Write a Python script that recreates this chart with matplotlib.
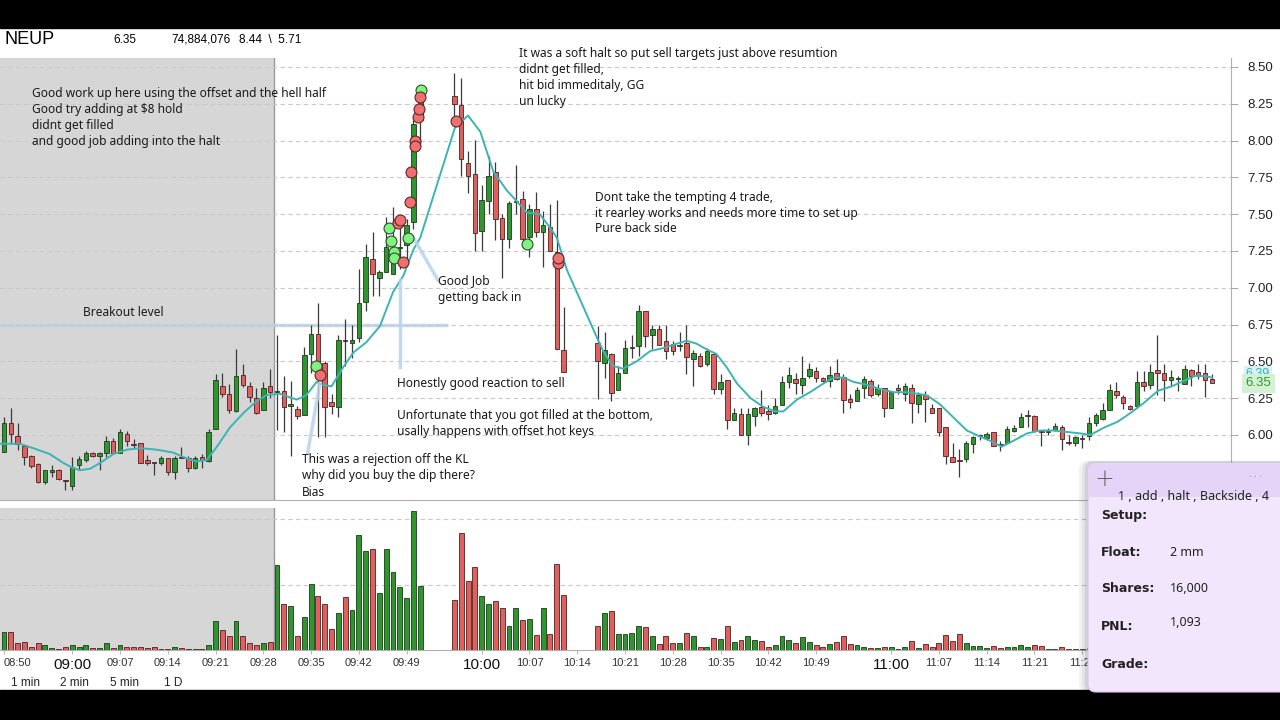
import numpy as np
import matplotlib
matplotlib.use("Agg")
import matplotlib.pyplot as plt
from matplotlib.patches import Rectangle, FancyBboxPatch
from matplotlib.transforms import IdentityTransform, blended_transform_factory

nan = float("nan")

# 1-minute bars starting 08:50, halts leave empty slots (nan)
opens = [5.885, 6.079, 5.996, 5.927, 5.855, 5.800, 5.683, 5.750, 5.759, 5.692,
         5.654, 5.795, 5.829, 5.878, 5.856, 5.878, 5.961, 5.878, 6.005, 5.938,
         5.945, 5.829, 5.815, 5.806, 5.844, 5.750, 5.844, 5.844, 5.777, 5.849,
         5.822, 6.041, 6.332, 6.281, 6.164, 6.410, 6.332, 6.254, 6.169, 6.332,
         6.290, 6.300, 6.200, 6.178, 6.133, 6.549, 6.684, 6.489, 6.222, 6.189,
         6.644, 6.622, 6.656, 6.904, 7.193, 7.067, 7.104, 7.096, 7.270, 7.289,
         7.450, 8.140, nan, nan, nan, nan, 8.304, 8.244, 7.851, 7.773,
         7.389, 7.589, 7.789, 7.473, 7.329, 7.584, 7.604, 7.344, 7.538, 7.382,
         7.411, 7.244, 6.578, nan, nan, nan, nan, 6.627, 6.490, 6.550,
         6.306, 6.424, 6.590, 6.601, 6.841, 6.679, 6.719, 6.639, 6.617, 6.603,
         6.624, 6.519, 6.539, 6.479, 6.550, 6.309, 6.373, 6.102, 6.142, 6.002,
         6.131, 6.187, 6.164, 6.151, 6.202, 6.357, 6.380, 6.342, 6.402, 6.435,
         6.386, 6.368, 6.424, 6.395, 6.246, 6.231, 6.318, 6.369, 6.275, 6.317,
         6.180, 6.320, 6.280, 6.317, 6.212, 6.274, 6.186, 6.186, 6.057, 5.850,
         5.825, 5.834, 5.939, 5.990, 5.979, 6.017, 5.936, 5.946, 6.028, 6.052,
         6.128, 6.128, 6.019, 6.019, 6.035, 6.052, 5.948, 5.946, 5.972, 5.990,
         6.083, 6.106, 6.172, 6.297, 6.261, 6.194, 6.194, 6.357, 6.341, 6.443,
         6.419, 6.372, 6.379, 6.346, 6.439, 6.430, 6.423, 6.379]
highs = [6.124, 6.180, 6.079, 5.927, 5.867, 5.811, 5.759, 5.795, 5.766, 5.692,
         5.849, 5.855, 5.894, 5.885, 5.885, 5.990, 5.979, 6.039, 6.028, 5.974,
         5.945, 5.867, 5.815, 5.855, 5.844, 5.855, 5.918, 5.855, 5.855, 5.871,
         6.039, 6.415, 6.419, 6.348, 6.583, 6.482, 6.359, 6.319, 6.359, 6.449,
         6.678, 6.400, 6.367, 6.200, 6.600, 6.744, 6.896, 6.500, 6.278, 6.678,
         6.789, 6.744, 7.127, 7.300, 7.378, 7.122, 7.478, 7.549, 7.430, 7.467,
         8.140, 8.330, nan, nan, nan, nan, 8.460, 8.422, 7.927, 8.007,
         7.696, 7.896, 7.856, 7.500, 7.589, 7.833, 7.656, 7.567, 7.649, 7.522,
         7.567, 7.593, 6.871, nan, nan, nan, nan, 6.740, 6.700, 6.560,
         6.468, 6.646, 6.680, 6.885, 6.845, 6.746, 6.750, 6.750, 6.639, 6.697,
         6.750, 6.579, 6.557, 6.590, 6.557, 6.413, 6.373, 6.180, 6.180, 6.180,
         6.191, 6.302, 6.202, 6.253, 6.402, 6.462, 6.424, 6.539, 6.490, 6.462,
         6.395, 6.468, 6.513, 6.413, 6.280, 6.324, 6.402, 6.380, 6.346, 6.317,
         6.291, 6.346, 6.350, 6.346, 6.290, 6.297, 6.212, 6.186, 6.057, 5.946,
         5.906, 5.957, 5.990, 6.008, 6.017, 6.023, 5.957, 6.061, 6.068, 6.146,
         6.172, 6.134, 6.035, 6.046, 6.079, 6.068, 6.001, 5.995, 6.001, 6.123,
         6.146, 6.217, 6.346, 6.357, 6.268, 6.201, 6.434, 6.434, 6.483, 6.679,
         6.483, 6.439, 6.401, 6.474, 6.446, 6.483, 6.479, 6.417]
lows = [5.885, 5.945, 5.900, 5.795, 5.777, 5.676, 5.670, 5.717, 5.692, 5.627,
        5.627, 5.759, 5.815, 5.851, 5.759, 5.851, 5.878, 5.878, 5.927, 5.911,
        5.811, 5.795, 5.728, 5.795, 5.726, 5.699, 5.840, 5.750, 5.766, 5.777,
        5.815, 6.041, 6.258, 6.151, 6.158, 6.325, 6.225, 6.140, 6.169, 6.254,
        6.033, 6.022, 5.856, 6.111, 6.133, 6.422, 5.989, 5.989, 6.144, 6.122,
        6.467, 6.522, 6.633, 6.844, 6.944, 6.944, 7.104, 7.096, 7.130, 7.189,
        7.400, 7.970, nan, nan, nan, nan, 8.170, 7.756, 7.644, 7.251,
        7.251, 7.500, 7.327, 7.067, 7.267, 7.500, 7.278, 7.211, 7.344, 7.140,
        7.251, 6.584, 6.429, nan, nan, nan, nan, 6.246, 6.390, 6.231,
        6.306, 6.424, 6.524, 6.535, 6.595, 6.586, 6.608, 6.513, 6.546, 6.573,
        6.413, 6.335, 6.462, 6.468, 6.280, 6.280, 6.040, 6.102, 6.002, 5.931,
        6.058, 6.129, 6.102, 6.142, 6.202, 6.320, 6.280, 6.280, 6.386, 6.357,
        6.362, 6.324, 6.373, 6.147, 6.180, 6.231, 6.253, 6.258, 6.262, 6.124,
        6.180, 6.280, 6.229, 6.079, 6.146, 6.090, 6.146, 5.990, 5.801, 5.819,
        5.712, 5.817, 5.879, 5.968, 5.972, 5.923, 5.890, 5.946, 6.017, 6.052,
        6.057, 6.017, 5.923, 6.001, 6.024, 5.901, 5.934, 5.923, 5.912, 5.968,
        6.061, 6.101, 6.172, 6.252, 6.179, 6.172, 6.186, 6.301, 6.312, 6.268,
        6.230, 6.334, 6.301, 6.346, 6.334, 6.379, 6.257, 6.350]
closes = [6.079, 6.008, 5.938, 5.849, 5.788, 5.683, 5.759, 5.759, 5.699, 5.688,
          5.782, 5.838, 5.878, 5.856, 5.878, 5.961, 5.878, 6.019, 5.961, 5.934,
          5.811, 5.806, 5.811, 5.844, 5.750, 5.840, 5.840, 5.777, 5.844, 5.829,
          6.023, 6.375, 6.281, 6.169, 6.399, 6.336, 6.258, 6.151, 6.319, 6.292,
          6.300, 6.189, 6.210, 6.127, 6.544, 6.684, 6.489, 6.189, 6.200, 6.644,
          6.638, 6.644, 6.896, 7.207, 7.096, 7.104, 7.278, 7.256, 7.280, 7.429,
          8.110, 8.290, nan, nan, nan, nan, 8.249, 7.878, 7.756, 7.371,
          7.593, 7.756, 7.467, 7.329, 7.578, 7.589, 7.329, 7.538, 7.382, 7.427,
          7.251, 6.584, 6.429, nan, nan, nan, nan, 6.500, 6.579, 6.284,
          6.424, 6.590, 6.595, 6.845, 6.672, 6.723, 6.608, 6.568, 6.568, 6.612,
          6.528, 6.557, 6.468, 6.568, 6.309, 6.357, 6.102, 6.147, 6.002, 6.140,
          6.180, 6.151, 6.140, 6.198, 6.357, 6.408, 6.351, 6.386, 6.446, 6.386,
          6.368, 6.408, 6.380, 6.240, 6.224, 6.302, 6.380, 6.269, 6.320, 6.180,
          6.290, 6.306, 6.330, 6.219, 6.268, 6.241, 6.152, 6.019, 5.857, 5.819,
          5.823, 5.946, 5.986, 5.997, 6.008, 5.923, 5.934, 6.039, 6.050, 6.123,
          6.132, 6.028, 6.017, 6.028, 6.061, 5.972, 5.946, 5.986, 5.970, 6.079,
          6.134, 6.168, 6.306, 6.268, 6.217, 6.179, 6.357, 6.334, 6.430, 6.419,
          6.372, 6.394, 6.381, 6.446, 6.401, 6.408, 6.372, 6.350]
# volume in units of the first volume gridline
volume = [0.27, 0.27, 0.11, 0.12, 0.05, 0.11, 0.07, 0.03, 0.01, 0.05,
          0.07, 0.04, 0.07, 0.03, 0.03, 0.10, 0.03, 0.07, 0.05, 0.05,
          0.05, 0.03, 0.04, 0.02, 0.02, 0.05, 0.03, 0.02, 0.01, 0.02,
          0.08, 0.44, 0.31, 0.21, 0.44, 0.22, 0.11, 0.08, 0.10, 0.12,
          1.30, 0.71, 0.68, 0.22, 0.51, 1.01, 0.83, 0.70, 0.32, 0.56,
          0.81, 0.61, 1.76, 1.52, 1.54, 0.87, 1.55, 1.19, 0.96, 0.80,
          2.12, 0.98, nan, nan, nan, nan, 0.76, 1.79, 1.05, 1.27,
          0.83, 0.70, 0.75, 0.64, 0.37, 0.64, 0.46, 0.47, 0.23, 0.64,
          0.24, 1.31, 0.84, nan, nan, nan, nan, 0.36, 0.57, 0.60,
          0.24, 0.24, 0.26, 0.37, 0.35, 0.22, 0.09, 0.22, 0.11, 0.10,
          0.26, 0.21, 0.05, 0.05, 0.18, 0.17, 0.37, 0.12, 0.15, 0.21,
          0.15, 0.14, 0.05, 0.07, 0.21, 0.16, 0.10, 0.20, 0.12, 0.07,
          0.05, 0.09, 0.12, 0.21, 0.09, 0.07, 0.04, 0.03, 0.03, 0.05,
          0.05, 0.02, 0.05, 0.13, 0.03, 0.09, 0.05, 0.10, 0.23, 0.13,
          0.25, 0.10, 0.06, 0.06, 0.03, 0.06, 0.03, 0.05, 0.05, 0.08,
          0.05, 0.08, 0.06, 0.02, 0.02, 0.04, 0.01, 0.01, 0.01, 0.03,
          0.04, 0.05, 0.08, 0.04, 0.03, 0.02, 0.09, 0.04, 0.06, 0.12,
          0.05, 0.03, 0.02, 0.05, 0.03, 0.02, 0.04, 0.02]

# moving average line (bar index, price)
ma_bar = [-0.6, 2.3, 4.3, 6.7, 8.7, 9.9, 11.1, 12.6, 14.1, 16.0, 18.0, 20.0, 22.4,
          24.8, 26.8, 28.2, 29.7, 31.2, 33.1, 35.1, 37.0, 38.5, 40.4, 42.9, 44.3,
          45.8, 46.8, 48.0, 49.7, 51.2, 53.1, 55.1, 57.0, 58.5, 60.0, 61.0, 66.1,
          68.0, 69.8, 71.7, 73.7, 75.1, 76.6, 78.5, 80.0, 81.0, 82.5, 86.9, 87.8,
          89.2, 90.7, 92.7, 94.7, 96.6, 98.6, 100.0, 101.5, 103.0, 104.4, 105.9,
          107.4, 109.4, 111.3, 113.0, 114.2, 116.2, 118.1, 120.1, 121.6, 123.0,
          124.5, 126.5, 128.5, 130.4, 132.4, 135.2, 137.1, 139.1, 141.1, 143.0,
          145.0, 146.2, 147.9, 149.9, 151.8, 153.8, 155.8, 157.8, 159.2, 161.2,
          163.2, 165.1, 167.1, 169.1, 171.1, 173.0, 174.5, 176.0, 177.0]
ma_val = [5.94, 5.94, 5.91, 5.87, 5.81, 5.78, 5.76, 5.77, 5.81, 5.87, 5.90, 5.91, 5.90,
          5.88, 5.84, 5.82, 5.83, 5.92, 6.05, 6.15, 6.23, 6.27, 6.28, 6.24, 6.27,
          6.36, 6.34, 6.33, 6.46, 6.56, 6.63, 6.74, 6.97, 7.08, 7.26, 7.34, 8.09,
          8.17, 8.06, 7.79, 7.66, 7.59, 7.51, 7.50, 7.41, 7.34, 7.12, 6.66, 6.57,
          6.47, 6.45, 6.50, 6.57, 6.59, 6.62, 6.64, 6.62, 6.58, 6.55, 6.46,
          6.35, 6.25, 6.19, 6.16, 6.16, 6.24, 6.29, 6.35, 6.39, 6.39,
          6.36, 6.34, 6.31, 6.29, 6.29, 6.27, 6.21, 6.12, 6.03, 5.99,
          5.95, 5.92, 5.96, 6.01, 6.03, 6.03, 6.02, 6.01, 6.00, 6.05,
          6.09, 6.15, 6.22, 6.30, 6.33, 6.37, 6.40, 6.40, 6.39]

# executions (bar index, price)
buy_bar = [45.7, 56.4, 56.7, 57.1, 57.1, 59.2, 61.1, 76.6]
buy_px = [6.467, 7.404, 7.318, 7.245, 7.200, 7.340, 8.344, 7.300]
sell_bar = [46.3, 57.8, 58.1, 58.4, 59.5, 59.7, 60.2, 60.2, 60.6, 60.8, 60.9, 66.3, 81.2, 81.2]
sell_px = [6.410, 7.438, 7.461, 7.173, 7.581, 7.789, 7.997, 7.966, 8.162, 8.215, 8.298, 8.133, 7.171, 7.200]

time_labels = ["08:50", "09:00", "09:07", "09:14", "09:21", "09:28", "09:35", "09:42",
               "09:49", "10:00", "10:07", "10:14", "10:21", "10:28", "10:35", "10:42",
               "10:49", "11:00", "11:07", "11:14", "11:21", "11:28"]
price_ticks = [6.00, 6.25, 6.50, 6.75, 7.00, 7.25, 7.50, 7.75, 8.00, 8.25, 8.50]

GREEN = "#2f952f"
RED = "#e0605e"
TEAL = "#3cb4b4"
NOTE = "#b9d3ec"
W, H = 1280, 720


def fx(x):
    return x / W


def fy(y):
    return 1 - y / H


o = np.array(opens)
h = np.array(highs)
l = np.array(lows)
c = np.array(closes)
v = np.array(volume)
bars = np.arange(len(o))
ok = ~np.isnan(o)
up = ok & (c >= o)
dn = ok & (c < o)

fig = plt.figure(figsize=(12.8, 7.2), dpi=100)
fig.patch.set_facecolor("white")

ax = fig.add_axes([0, fy(500), fx(1231), (500 - 58) / H])
axv = fig.add_axes([0, fy(650), fx(1231), (650 - 508) / H])

xmin, xmax = -0.586, 179.8
premarket_end = 39.56

# price panel
ax.set_xlim(xmin, xmax)
ax.set_ylim(5.558, 8.561)
ax.axvspan(xmin, premarket_end, color="#d6d6d6", zorder=0, lw=0)
ax.axvline(premarket_end, color="#9a9a9a", lw=1, zorder=1)
ax.set_yticks(price_ticks)
ax.set_yticklabels(["%.2f" % p for p in price_ticks])
ax.yaxis.tick_right()
ax.tick_params(axis="y", length=5, color="#aaaaaa", pad=7, labelsize=9.5,
               labelcolor="#222222")
ax.tick_params(axis="x", bottom=False, labelbottom=False)
ax.grid(axis="y", ls=(0, (4, 3)), color="#c8c8c8", lw=0.8, zorder=0.5)
for s in ["left", "top"]:
    ax.spines[s].set_visible(False)
ax.spines["right"].set_color("#b0b0b0")
ax.spines["bottom"].set_color("#b0b0b0")
for t in ax.get_yticklabels():
    t.set_fontfamily(["Liberation Sans", "DejaVu Sans"])

ax.vlines(bars[ok], l[ok], h[ok], color="#3b3b3b", lw=0.9, zorder=2)
body_lo = np.minimum(o, c)
body_h = np.maximum(np.abs(c - o), 0.007)
ax.bar(bars[up], body_h[up], bottom=body_lo[up], width=0.66, color=GREEN,
       edgecolor="#1c3a1c", lw=0.6, zorder=3)
ax.bar(bars[dn], body_h[dn], bottom=body_lo[dn], width=0.66, color=RED,
       edgecolor="#4a2222", lw=0.6, zorder=3)

ax.plot(ma_bar, ma_val, color=TEAL, lw=1.4, zorder=4)

# note lines drawn on the chart
ax.plot([xmin, 65.0], [6.745, 6.745], color=NOTE, lw=2.5, alpha=0.85, zorder=1.5,
        solid_capstyle="butt")
ax.plot([58.0, 58.0], [6.46, 7.05], color=NOTE, lw=2.5, alpha=0.85, zorder=4.5)
ax.plot([60.0, 63.6], [7.34, 7.05], color=NOTE, lw=2.5, alpha=0.85, zorder=4.5)
ax.plot([44.5, 46.3], [5.878, 6.353], color=NOTE, lw=2.5, alpha=0.85, zorder=4.5)

ax.scatter(buy_bar, buy_px, s=62, color="#7ff27f", edgecolor="#2f4f2f", lw=0.8,
           zorder=6)
ax.scatter(sell_bar, sell_px, s=62, color="#f07070", edgecolor="#5a2a2a", lw=0.8,
           zorder=6)

# last price tags (the MA tag sits half hidden behind the price tag)
tr = blended_transform_factory(ax.transAxes, ax.transData)
ax.text(1.012, ma_val[-1] + 0.025, "6.39", transform=tr, fontsize=9, color=TEAL,
        va="center", ha="left", family=["Liberation Sans", "DejaVu Sans"],
        bbox=dict(boxstyle="square,pad=0.15", fc="#d8f1f4", ec="none"), zorder=7,
        clip_on=False)
ax.text(1.012, closes[-1], "6.35", transform=tr, fontsize=9.5, color="#2a9a2a",
        va="center", ha="left", family=["Liberation Sans", "DejaVu Sans"],
        bbox=dict(boxstyle="square,pad=0.25", fc="#d6f0d6", ec="none"), zorder=8,
        clip_on=False)

# volume panel
axv.set_xlim(xmin, xmax)
axv.set_ylim(0, 2.17)
axv.axvspan(xmin, premarket_end, color="#d6d6d6", zorder=0, lw=0)
axv.axvline(premarket_end, color="#9a9a9a", lw=1, zorder=1)
axv.bar(bars[up], v[up], width=0.72, color=GREEN, edgecolor="#1c3a1c", lw=0.6,
        zorder=3)
axv.bar(bars[dn], v[dn], width=0.72, color=RED, edgecolor="#4a2222", lw=0.6,
        zorder=3)
axv.set_yticks([1, 2])
axv.yaxis.tick_right()
axv.tick_params(axis="y", length=0, labelright=False)
axv.grid(axis="y", ls=(0, (4, 3)), color="#c8c8c8", lw=0.8, zorder=0.5)
for s in ["left", "top"]:
    axv.spines[s].set_visible(False)
axv.spines["right"].set_color("#b0b0b0")
axv.spines["bottom"].set_color("#b0b0b0")

tick_pos = []
for lab in time_labels:
    hh, mm = lab.split(":")
    tick_pos.append(int(hh) * 60 + int(mm) - (8 * 60 + 50))
axv.set_xticks(tick_pos)
axv.set_xticklabels(time_labels)
axv.tick_params(axis="x", length=3, color="#bbbbbb", pad=3)
for t in axv.get_xticklabels():
    t.set_fontfamily(["Liberation Sans Narrow", "Liberation Sans", "DejaVu Sans"])
    if t.get_text().endswith(":00"):
        t.set_fontsize(11)
        t.set_color("#111111")
    else:
        t.set_fontsize(8)
        t.set_color("#333333")
axv.get_xticklabels()[0].set_ha("left")

# frame bars and header
fig.add_artist(Rectangle((0, fy(28)), 1, 28 / H, transform=fig.transFigure,
                         color="black", zorder=20))
fig.add_artist(Rectangle((0, 0), 1, 30 / H, transform=fig.transFigure,
                         color="black", zorder=20))
hf = ["Liberation Sans", "DejaVu Sans"]
fig.text(fx(5), fy(40), "NEUP", fontsize=13, va="center", family=hf)
fig.text(fx(113), fy(40), "6.35", fontsize=8.5, va="center", family=hf)
fig.text(fx(171), fy(40), "74,884,076", fontsize=8.5, va="center", family=hf)
fig.text(fx(239), fy(40), "8.44  \\  5.71", fontsize=8.5, va="center", family=hf)

nf = ["Liberation Sans Narrow", "Liberation Sans", "DejaVu Sans"]
for xx, lab in [(11, "1 min"), (60, "2 min"), (110, "5 min"), (164, "1 D")]:
    fig.text(fx(xx), fy(683), lab, fontsize=8.5, va="center", family=nf,
             color="#222222")

# annotations
af = ["Noto Sans", "DejaVu Sans"]
notes = [
    (32, 94, ["Good work up here using the offset and the hell half",
              "Good try adding at \\$8 hold",
              "didnt get filled",
              "and good job adding into the halt"]),
    (83, 313, ["Breakout level"]),
    (519, 53, ["It was a soft halt so put sell targets just above resumtion",
               "didnt get filled,",
               "hit bid immeditaly, GG",
               "un lucky"]),
    (595, 197, ["Dont take the tempting 4 trade,",
                "it rearley works and needs more time to set up",
                "Pure back side"]),
    (438, 281, ["Good Job", "getting back in"]),
    (397, 384, ["Honestly good reaction to sell"]),
    (397, 416, ["Unfortunate that you got filled at the bottom,",
                "usally happens with offset hot keys"]),
    (302, 460, ["This was a rejection off the KL",
                "why did you buy the dip there?",
                "Bias"]),
]
for xx, yy, lines in notes:
    for k, line in enumerate(lines):
        fig.text(fx(xx), fy(yy + 16 * k), line, fontsize=8.6, va="center",
                 ha="left", family=af, color="#1a1a1a", zorder=10)

# journal card
px = IdentityTransform()
for k, a in enumerate([0.05, 0.06, 0.08]):
    fig.add_artist(FancyBboxPatch((1088 - 9 + 3 * k, 28), 250, H - 463 - 28 + 2,
                                  boxstyle="round,pad=0,rounding_size=9",
                                  transform=px, fc="black", ec="none", alpha=a,
                                  zorder=21))
fig.add_artist(FancyBboxPatch((1088, 28), 250, H - 463 - 28,
                              boxstyle="round,pad=0,rounding_size=8",
                              transform=px, fc="#f1e6fc", ec="#d9c6ec", lw=0.8,
                              zorder=22))
fig.add_artist(FancyBboxPatch((1088, H - 495), 250, 32,
                              boxstyle="round,pad=0,rounding_size=8",
                              transform=px, fc="#e6d3f8", ec="none", zorder=23))
fig.add_artist(Rectangle((1088.5, H - 497), 249, 10, transform=px,
                         fc="#e6d3f8", ec="none", zorder=23))
cf = ["Noto Sans", "DejaVu Sans"]
fig.text(fx(1104), fy(479), "+", fontsize=17, color="#666666", ha="center",
         va="center", family=["DejaVu Sans"], fontweight="light", zorder=24)
fig.text(fx(1255), fy(477), "· · ·", fontsize=7, color="#777777", ha="center",
         va="center", family=cf, zorder=24)
fig.text(fx(1193), fy(496), "1 , add , halt , Backside , 4", fontsize=9,
         color="#222222", ha="center", va="center", family=cf, zorder=24)
for yy, lab, val, vy in [(515, "Setup:", "", 515), (552, "Float:", "2 mm", 553),
                         (589, "Shares:", "16,000", 589), (626, "PNL:", "1,093", 623),
                         (664, "Grade:", "", 664)]:
    fig.text(fx(1101), fy(yy), lab, fontsize=9, fontweight="bold",
             color="#222222", va="center", family=["DejaVu Sans"], zorder=24)
    if val:
        fig.text(fx(1170), fy(vy), val, fontsize=9, color="#222222",
                 va="center", family=cf, zorder=24)

fig.savefig("out.png", dpi=100, facecolor="white")
